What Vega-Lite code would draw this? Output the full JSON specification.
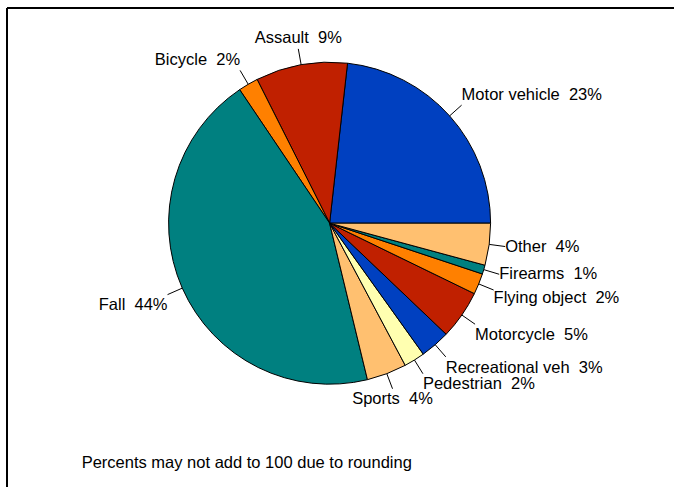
{
  "$schema": "https://vega.github.io/schema/vega-lite/v6.json",
  "width": 667,
  "height": 479,
  "autosize": {"type": "none"},
  "padding": {"left": 7, "top": 8, "right": 0, "bottom": 0},
  "background": "white",
  "config": {"view": {"stroke": null}, "font": "Liberation Sans"},
  "layer": [
    {
      "data": {"values": [{"note": "Percents may not add to 100 due to rounding"}]},
      "layer": [
        {
          "mark": {"type": "rule", "stroke": "black", "strokeWidth": 2},
          "encoding": {"x": {"datum": -2.0037, "type": "quantitative"}}
        },
        {
          "mark": {"type": "rule", "stroke": "black", "strokeWidth": 2},
          "encoding": {"y": {"datum": 1.3366, "type": "quantitative"}}
        },
        {
          "mark": {"type": "text", "align": "left", "baseline": "alphabetic", "fontSize": 16.5, "color": "black"},
          "encoding": {
            "x": {"datum": -1.54, "type": "quantitative"},
            "y": {"datum": -1.5205, "type": "quantitative"},
            "text": {"field": "note"}
          }
        }
      ]
    },
    {
      "data": {
        "values": [
          {"order": 1, "category": "Motor vehicle", "value": 23.2, "label": "Motor vehicle\u00a0 23%"},
          {"order": 2, "category": "Assault", "value": 9.2, "label": "Assault\u00a0 9%"},
          {"order": 3, "category": "Bicycle", "value": 2.0, "label": "Bicycle\u00a0 2%"},
          {"order": 4, "category": "Fall", "value": 44.3, "label": "Fall\u00a0 44%"},
          {"order": 5, "category": "Sports", "value": 4.0, "label": "Sports\u00a0 4%"},
          {"order": 6, "category": "Pedestrian", "value": 2.1, "label": "Pedestrian\u00a0 2%"},
          {"order": 7, "category": "Recreational veh", "value": 3.0, "label": "Recreational veh\u00a0 3%"},
          {"order": 8, "category": "Motorcycle", "value": 4.9, "label": "Motorcycle\u00a0 5%"},
          {"order": 9, "category": "Flying object", "value": 2.1, "label": "Flying object\u00a0 2%"},
          {"order": 10, "category": "Firearms", "value": 0.9, "label": "Firearms\u00a0 1%"},
          {"order": 11, "category": "Other", "value": 4.2, "label": "Other\u00a0 4%"}
        ]
      },
      "transform": [
        {"stack": "value", "groupby": [], "sort": [{"field": "order", "order": "ascending"}], "as": ["v0", "v1"]},
        {"joinaggregate": [{"op": "sum", "field": "value", "as": "total"}]},
        {"calculate": "(datum.v0 + datum.v1) / datum.total * PI", "as": "mid"},
        {"calculate": "cos(datum.mid)", "as": "c"},
        {"calculate": "sin(datum.mid)", "as": "s"},
        {"calculate": "1.1 * datum.c", "as": "lx"},
        {"calculate": "1.1 * datum.s", "as": "ly"},
        {"calculate": "1.1 * datum.s + 0.066 * (datum.s < 0 ? -1 : 1) * max(0, min(1, (abs(datum.s) - 0.3) / 0.1))", "as": "ty"}
      ],
      "layer": [
        {
          "mark": {"type": "arc", "outerRadius": 161, "stroke": "black", "strokeWidth": 1},
          "encoding": {
            "x": {"datum": 0, "type": "quantitative", "scale": {"domain": [-2.0037, 2.1391], "nice": false, "zero": false}, "axis": null},
            "y": {"datum": 0, "type": "quantitative", "scale": {"domain": [-1.6385, 1.3366], "nice": false, "zero": false}, "axis": null},
            "theta": {"field": "value", "type": "quantitative", "stack": true, "scale": {"range": [1.5707963, -4.712389]}},
            "order": {"field": "order", "type": "quantitative"},
            "color": {
              "field": "category",
              "type": "nominal",
              "legend": null,
              "scale": {
                "domain": ["Motor vehicle", "Assault", "Bicycle", "Fall", "Sports", "Pedestrian", "Recreational veh", "Motorcycle", "Flying object", "Firearms", "Other"],
                "range": ["#0040C0", "#C02000", "#FF8000", "#008080", "#FFC070", "#FFFFB0", "#0040C0", "#C02000", "#FF8000", "#008080", "#FFC070"]
              }
            }
          }
        },
        {
          "mark": {"type": "rule", "stroke": "black", "strokeWidth": 1},
          "encoding": {
            "x": {"field": "c", "type": "quantitative"},
            "y": {"field": "s", "type": "quantitative"},
            "x2": {"field": "lx"},
            "y2": {"field": "ly"}
          }
        },
        {
          "transform": [{"filter": "datum.c > 0.4"}],
          "mark": {"type": "text", "align": "left", "baseline": "middle", "fontSize": 16.5, "color": "black"},
          "encoding": {
            "x": {"field": "lx", "type": "quantitative"},
            "y": {"field": "ty", "type": "quantitative"},
            "text": {"field": "label"}
          }
        },
        {
          "transform": [{"filter": "datum.c < -0.4"}],
          "mark": {"type": "text", "align": "right", "baseline": "middle", "fontSize": 16.5, "color": "black"},
          "encoding": {
            "x": {"field": "lx", "type": "quantitative"},
            "y": {"field": "ty", "type": "quantitative"},
            "text": {"field": "label"}
          }
        },
        {
          "transform": [{"filter": "abs(datum.c) <= 0.4"}],
          "mark": {"type": "text", "align": "center", "baseline": "middle", "fontSize": 16.5, "color": "black"},
          "encoding": {
            "x": {"field": "lx", "type": "quantitative"},
            "y": {"field": "ty", "type": "quantitative"},
            "text": {"field": "label"}
          }
        }
      ]
    }
  ]
}
